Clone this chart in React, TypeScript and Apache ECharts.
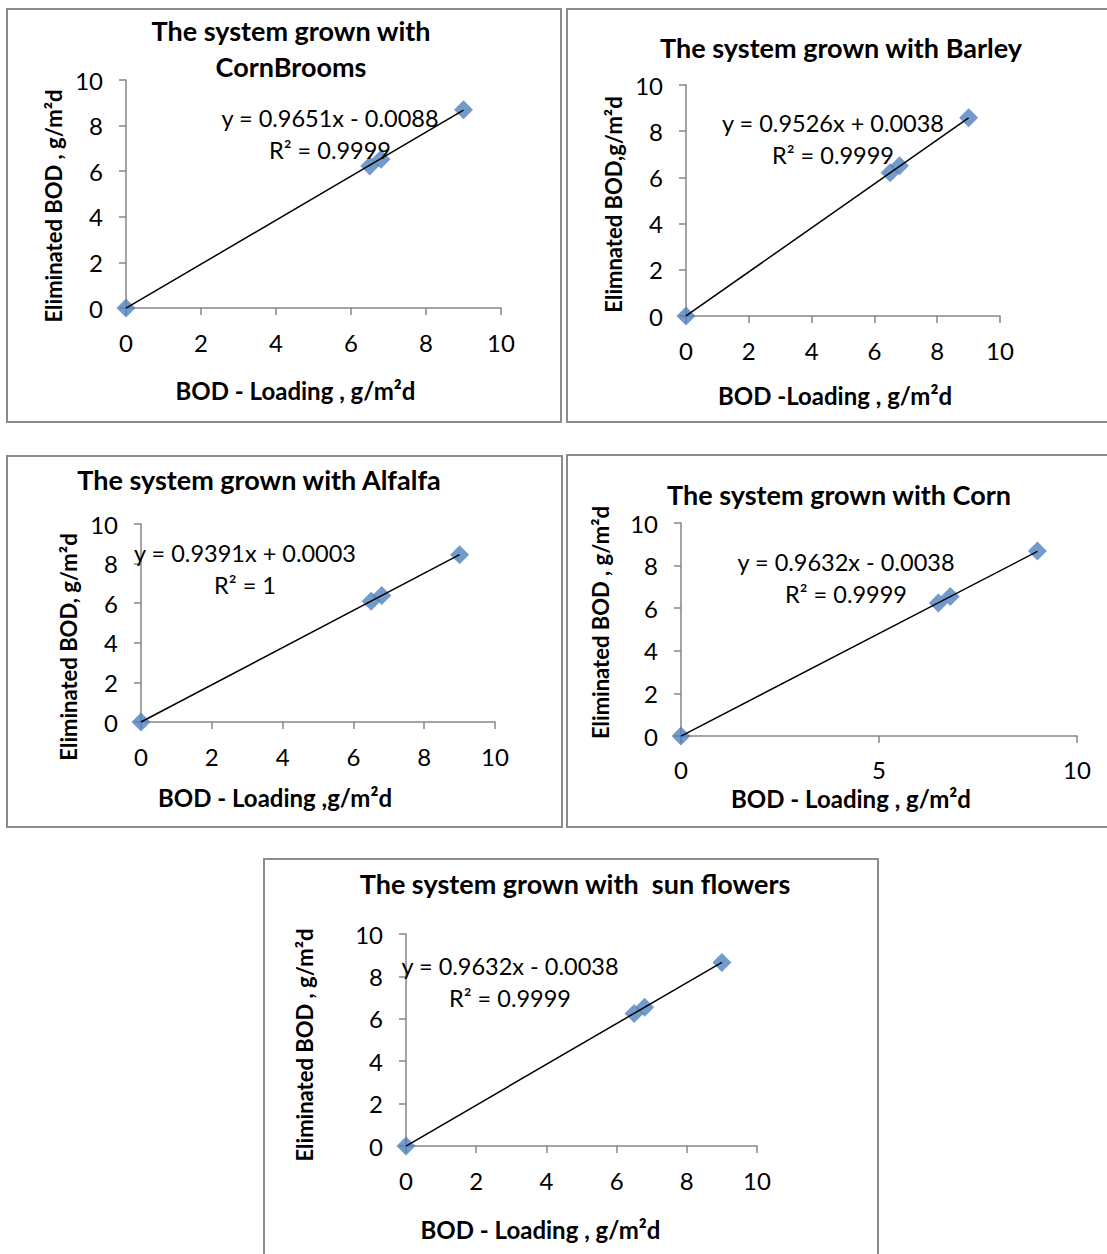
import React, { useEffect, useRef } from "react";
import * as echarts from "echarts";

// ---- data ----
const panelTitles = [
  "The system grown with\nCornBrooms",
  "The system grown with Barley",
  "The system grown with Alfalfa",
  "The system grown with Corn",
  "The system grown with  sun flowers",
];
const xNames = [
  "BOD - Loading , g/m²d",
  "BOD -Loading , g/m²d",
  "BOD - Loading ,g/m²d",
  "BOD - Loading , g/m²d",
  "BOD - Loading , g/m²d",
];
const yNames = [
  "Eliminated BOD , g/m²d",
  "Elimnated BOD,g/m²d",
  "Eliminated BOD, g/m²d",
  "Eliminated BOD , g/m²d",
  "Eliminated BOD , g/m²d",
];
const loadingX = [0, 6.5, 6.8, 9];
const cornBroomsY = [0, 6.23, 6.52, 8.7];
const barleyY = [0, 6.2, 6.5, 8.58];
const alfalfaY = [0, 6.1, 6.39, 8.45];
const cornY = [0, 6.24, 6.55, 8.68];
const sunFlowersY = [0, 6.25, 6.55, 8.66];
const seriesY = [cornBroomsY, barleyY, alfalfaY, cornY, sunFlowersY];
const slopes = [0.9651, 0.9526, 0.9391, 0.9632, 0.9632];
const intercepts = [-0.0088, 0.0038, 0.0003, -0.0038, -0.0038];
const equations = [
  "y = 0.9651x - 0.0088",
  "y = 0.9526x + 0.0038",
  "y = 0.9391x + 0.0003",
  "y = 0.9632x - 0.0038",
  "y = 0.9632x - 0.0038",
];
const r2Texts = ["R² = 0.9999", "R² = 0.9999", "R² = 1", "R² = 0.9999", "R² = 0.9999"];
const xIntervals = [2, 2, 2, 5, 2];

// ---- layout ----
const grids = [
  { left: 126, top: 80, width: 375, height: 228 },
  { left: 686, top: 85, width: 314, height: 231 },
  { left: 141, top: 524, width: 354, height: 198 },
  { left: 681, top: 523, width: 396, height: 213 },
  { left: 406, top: 934, width: 351, height: 212 },
];
const borders = [
  { x: 7, y: 9, width: 554, height: 413 },
  { x: 567, y: 9, width: 545, height: 413 },
  { x: 7, y: 456, width: 555, height: 371 },
  { x: 567, y: 455, width: 545, height: 372 },
  { x: 264, y: 859, width: 614, height: 400 },
];
const titlePos = [
  { x: 291, y: 48 },
  { x: 841, y: 47 },
  { x: 259, y: 479 },
  { x: 839, y: 494 },
  { x: 575, y: 883 },
];
const eqPos = [
  { x: 330, y: 118 },
  { x: 833, y: 123 },
  { x: 245, y: 553 },
  { x: 846, y: 562 },
  { x: 510, y: 966 },
];
const xNameGaps = [70, 67, 63, 50, 71];
const xNameShift = [-18, -8, -43, -28, -41];
const yNameGaps = [62, 62, 62, 70, 91];
const yNameShift = [12, 4, 24, -7, 5];
const xLabelMargins = [22, 22, 22, 21, 22];

const FONT = "Lato";

export default function App() {
  const ref = useRef<HTMLDivElement>(null);
  useEffect(() => {
    if (!ref.current) return;
    const chart = echarts.init(ref.current, undefined, { renderer: "svg" });
    const axisLine = { show: true, onZero: false, lineStyle: { color: "#868686", width: 1.5 } };
    const axisTick = { show: true, inside: false, length: 7, lineStyle: { color: "#868686", width: 1.5 } };
    const labelStyle = { color: "#000", fontSize: 24, fontFamily: FONT };

    const xAxis = grids.map((_, i) => {
      const s = xNameShift[i];
      return {
        type: "value",
        gridIndex: i,
        min: 0,
        max: 10,
        interval: xIntervals[i],
        axisLine,
        axisTick,
        splitLine: { show: false },
        axisLabel: { ...labelStyle, margin: xLabelMargins[i] },
        name: xNames[i],
        nameLocation: "middle",
        nameGap: xNameGaps[i],
        nameTextStyle: {
          color: "#000",
          fontSize: 24,
          fontWeight: "bold",
          fontFamily: FONT,
          padding: s < 0 ? [0, -2 * s, 0, 0] : [0, 0, 0, 2 * s],
        },
      };
    });
    const yAxis = grids.map((_, i) => {
      const s = yNameShift[i];
      return {
        type: "value",
        gridIndex: i,
        min: 0,
        max: 10,
        interval: 2,
        axisLine,
        axisTick,
        splitLine: { show: false },
        axisLabel: { ...labelStyle, margin: 23 },
        name: yNames[i],
        nameLocation: "middle",
        nameGap: yNameGaps[i],
        nameRotate: 90,
        nameTextStyle: {
          color: "#000",
          fontSize: 22,
          fontWeight: "bold",
          fontFamily: FONT,
          padding: s > 0 ? [0, 2 * s, 0, 0] : [0, 0, 0, -2 * s],
        },
      };
    });

    const series: any[] = [];
    seriesY.forEach((ys, i) => {
      series.push({
        type: "scatter",
        xAxisIndex: i,
        yAxisIndex: i,
        symbol: "diamond",
        symbolSize: 19,
        itemStyle: { color: "#4F81BD" },
        data: loadingX.map((x, k) => [x, ys[k]]),
        z: 2,
      });
      const xEnd = loadingX[loadingX.length - 1];
      series.push({
        type: "line",
        xAxisIndex: i,
        yAxisIndex: i,
        symbol: "none",
        lineStyle: { color: "#000", width: 1.5 },
        data: [
          [0, intercepts[i]],
          [xEnd, slopes[i] * xEnd + intercepts[i]],
        ],
        z: 3,
      });
    });

    const graphic: any[] = [];
    borders.forEach((b) => {
      graphic.push({
        type: "rect",
        shape: b,
        style: { fill: "none", stroke: "#8c8c8c", lineWidth: 2 },
        silent: true,
      });
    });
    titlePos.forEach((p, i) => {
      const lines = panelTitles[i].split("\n");
      lines.forEach((t, k) => {
        graphic.push({
          type: "text",
          x: p.x,
          y: lines.length > 1 ? p.y - 18 + k * 36 : p.y,
          style: {
            text: t,
            align: "center",
            verticalAlign: "middle",
            font: `bold 27px ${FONT}`,
            fill: "#000",
          },
        });
      });
    });
    eqPos.forEach((p, i) => {
      graphic.push({
        type: "text",
        x: p.x,
        y: p.y,
        z: 10,
        style: { text: equations[i], align: "center", verticalAlign: "middle", font: `23.5px ${FONT}`, fill: "#000" },
      });
      graphic.push({
        type: "text",
        x: p.x,
        y: p.y + 32,
        z: 10,
        style: { text: r2Texts[i], align: "center", verticalAlign: "middle", font: `23.5px ${FONT}`, fill: "#000" },
      });
    });

    chart.setOption({
      animation: false,
      backgroundColor: "#fff",
      grid: grids.map((g) => ({ ...g, containLabel: false })),
      xAxis,
      yAxis,
      series,
      graphic,
    });
    return () => chart.dispose();
  }, []);
  return (
    <div
      ref={ref}
      style={{ position: "absolute", left: 0, top: 0, width: 1107, height: 1254 }}
    />
  );
}
